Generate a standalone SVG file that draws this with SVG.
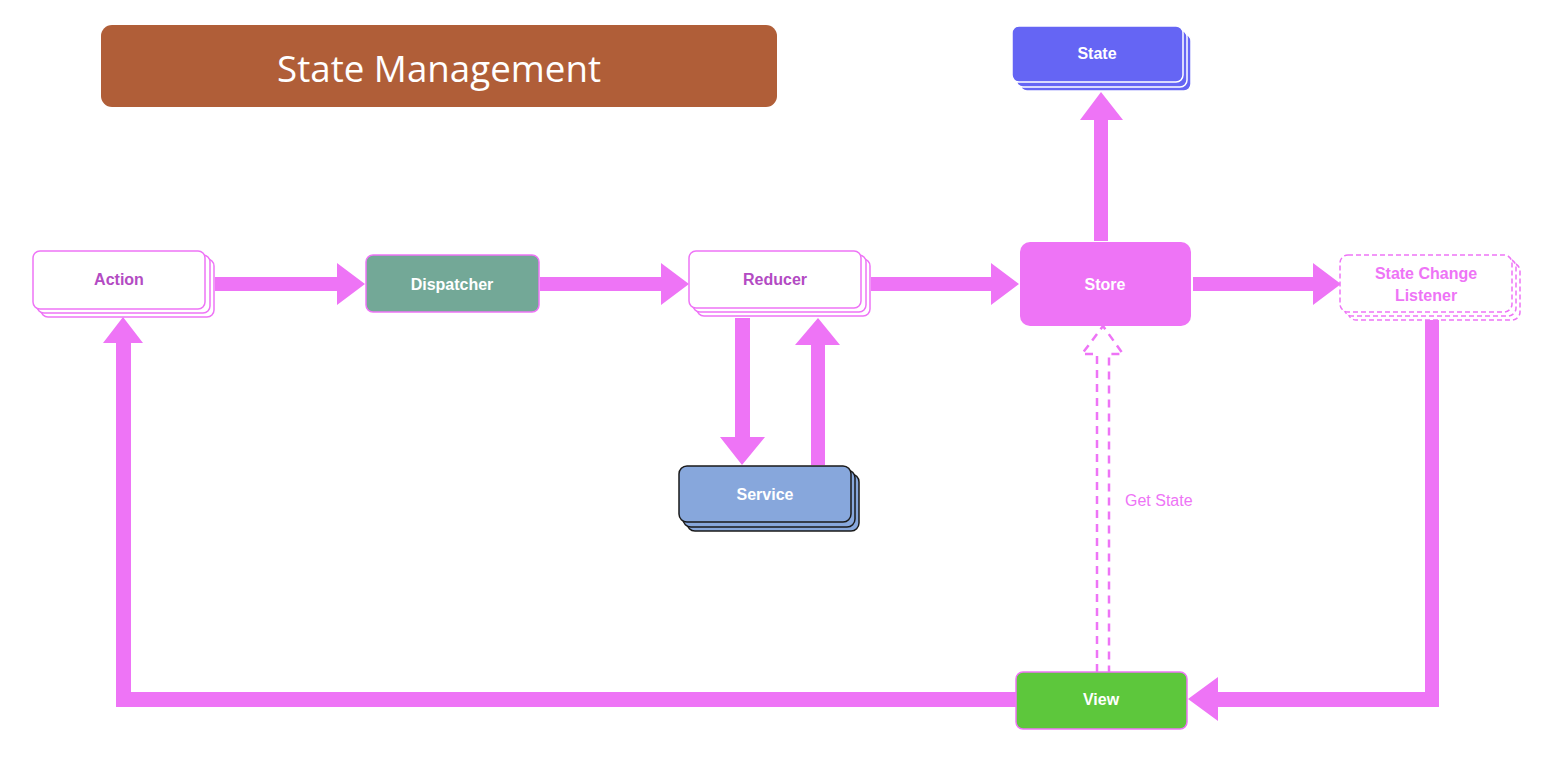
<svg xmlns="http://www.w3.org/2000/svg" width="1554" height="758" viewBox="0 0 1554 758">
<style>
.lbl{font-family:"Liberation Sans",Arial,sans-serif;font-weight:bold;font-size:16px;text-anchor:middle;dominant-baseline:central}
.w{fill:#ffffff}
.p{fill:#B34BC3}
.pk{fill:#EE74F6}
.arr{fill:#EE74F6;stroke:none}
.pinkbox{fill:#ffffff;stroke:#EE74F6;stroke-width:1.5}
.dash{fill:#ffffff;stroke:#EE74F6;stroke-width:1.5;stroke-dasharray:5 3}
</style>
<rect width="1554" height="758" fill="#ffffff"/>
<g id="title">
<rect x="101" y="25" width="676" height="82" rx="11" fill="#B05E38"/>
<text x="439" y="68" font-family="'Open Sans','Noto Sans',sans-serif" font-size="36" fill="#ffffff" text-anchor="middle" dominant-baseline="central" textLength="324" lengthAdjust="spacingAndGlyphs">State Management</text>
</g>
<g id="connectors">
<path class="arr" d="M215,277 H337 V263 L365,284 L337,305 V291 H215 Z"/>
<path class="arr" d="M540,277 H661 V263 L689,284 L661,305 V291 H540 Z"/>
<path class="arr" d="M871,277 H991 V263 L1019,284 L991,305 V291 H871 Z"/>
<path class="arr" d="M1193,277 H1313 V263 L1341,284 L1313,305 V291 H1193 Z"/>
<path class="arr" d="M1094,241 V120 H1080 L1101,92 L1123,120 H1108 V241 Z"/>
<path class="arr" d="M735,318 V437 H720 L742,465 L765,437 H750 V318 Z"/>
<path class="arr" d="M811,465 V345 H795 L818,318 L840,345 H825 V465 Z"/>
<path class="arr" d="M1425,320 H1439 V707 H1218 V721 L1188,699 L1218,677 V692 H1425 Z"/>
<path class="arr" d="M1016,692 V707 H116 V343 H103 L123,317 L143,343 H131 V692 Z"/>
<path d="M1097,672 V354 H1082 L1103,326 L1123,354 H1109 V672" fill="none" stroke="#EE74F6" stroke-width="2.5" stroke-dasharray="8 6"/>
<text x="1125" y="500" font-family="'Liberation Sans',Arial,sans-serif" font-size="16" class="pk" dominant-baseline="central">Get State</text>
</g>
<g id="action">
<rect class="pinkbox" x="41" y="259" width="173" height="58" rx="7"/>
<rect class="pinkbox" x="37" y="255" width="173" height="58" rx="7"/>
<rect class="pinkbox" x="33" y="251" width="172" height="58" rx="7"/>
<text class="lbl p" x="119" y="279">Action</text>
</g>
<g id="dispatcher">
<rect x="366" y="255" width="173" height="57" rx="7" fill="#73A897" stroke="#EE74F6" stroke-width="1.5"/>
<text class="lbl w" x="452" y="284">Dispatcher</text>
</g>
<g id="reducer">
<rect class="pinkbox" x="697" y="259" width="173" height="57" rx="7"/>
<rect class="pinkbox" x="693" y="255" width="173" height="57" rx="7"/>
<rect class="pinkbox" x="689" y="251" width="172" height="57" rx="7"/>
<text class="lbl p" x="775" y="279">Reducer</text>
</g>
<g id="store">
<rect x="1020" y="242" width="171" height="84" rx="10" fill="#EE74F6"/>
<text class="lbl w" x="1105" y="284">Store</text>
</g>
<g id="state">
<rect x="1020" y="34" width="171" height="57" rx="7" fill="#6565F4" stroke="#ffffff" stroke-width="1.5"/>
<rect x="1016" y="30" width="171" height="57" rx="7" fill="#6565F4" stroke="#ffffff" stroke-width="1.5"/>
<rect x="1012" y="26" width="171" height="56" rx="7" fill="#6565F4" stroke="#ffffff" stroke-width="1.5"/>
<text class="lbl w" x="1097" y="53">State</text>
</g>
<g id="listener">
<rect class="dash" x="1348" y="263" width="172" height="57" rx="8"/>
<rect class="dash" x="1344" y="259" width="172" height="57" rx="8"/>
<rect class="dash" x="1340" y="255" width="172" height="57" rx="8"/>
<text class="lbl pk" x="1426" y="273">State Change</text>
<text class="lbl pk" x="1426" y="295">Listener</text>
</g>
<g id="service">
<rect x="687" y="474" width="172" height="57" rx="8" fill="#87A7DC" stroke="#1a1a1a" stroke-width="1.5"/>
<rect x="683" y="470" width="172" height="57" rx="8" fill="#87A7DC" stroke="#1a1a1a" stroke-width="1.5"/>
<rect x="679" y="466" width="172" height="56" rx="8" fill="#87A7DC" stroke="#1a1a1a" stroke-width="1.5"/>
<text class="lbl w" x="765" y="494">Service</text>
</g>
<g id="view">
<rect x="1016" y="672" width="171" height="57" rx="7" fill="#5DC73C" stroke="#EE74F6" stroke-width="1.5"/>
<text class="lbl w" x="1101" y="699">View</text>
</g>
</svg>
